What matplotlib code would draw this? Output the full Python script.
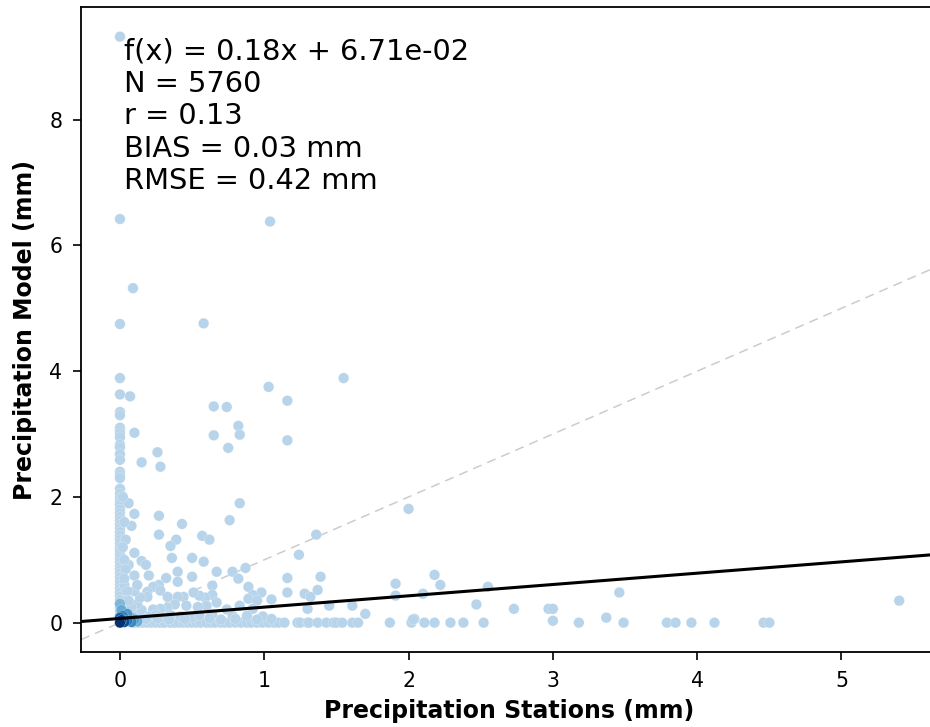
import numpy as np
import matplotlib.pyplot as plt

# fit stats printed on the chart
slope = 0.18
intercept = 6.71e-02
n_obs = 5760
r_val = 0.13
bias = 0.03
rmse = 0.42

# points sitting on x = 0 (station reports no rain)
col_y = [9.32, 6.42, 4.75, 3.89, 3.63, 3.35, 3.30, 3.10, 3.05, 3.00, 2.95,
         2.83, 2.79, 2.68, 2.59, 2.40, 2.35, 2.30, 2.13, 2.05, 1.98, 1.92,
         1.87, 1.80, 1.74, 1.68, 1.62, 1.56, 1.50, 1.44, 1.38, 1.32, 1.26,
         1.20, 1.14, 1.08, 1.02, 0.96, 0.90, 0.84, 0.78, 0.72, 0.66, 0.60,
         0.54, 0.48, 0.42, 0.36, 0.30, 0.24, 0.18, 0.12]

# points sitting on y = 0 (model gives no rain)
row_x = [0.10, 0.13, 0.16, 0.19, 0.22, 0.25, 0.28, 0.31, 0.35, 0.38, 0.41,
         0.44, 0.47, 0.50, 0.53, 0.56, 0.60, 0.63, 0.66, 0.70, 0.73, 0.76,
         0.80, 0.84, 0.88, 0.91, 0.95, 0.99, 1.03, 1.07, 1.10, 1.14, 1.23,
         1.25, 1.30, 1.31, 1.37, 1.43, 1.48, 1.50, 1.54, 1.61, 1.65, 1.87,
         2.02, 2.11, 2.18, 2.29, 2.38, 2.52, 3.18, 3.49, 3.79, 3.85, 3.96,
         4.12, 4.46, 4.50]

# remaining scattered pairs
sc_x = [1.04, 0.09, 0.58, 1.03, 1.55, 0.07, 1.16, 0.65, 0.74, 0.82, 0.10,
        0.65, 0.83, 1.16, 0.75, 0.26, 0.15, 0.28, 0.06, 0.83, 2.00, 0.10,
        0.27, 0.08, 0.43, 0.76, 0.27, 0.39, 0.57, 0.62, 0.35, 1.36, 1.24,
        0.10, 0.36, 0.50, 0.58, 0.15, 0.18, 0.06, 0.40, 0.20, 0.32, 0.50,
        0.67, 0.78, 0.87, 0.10, 0.82, 1.16, 1.39, 0.40, 0.27, 0.23, 0.19,
        0.28, 0.19, 0.89, 0.98, 0.92, 0.89, 1.05, 0.95, 1.16, 1.28, 1.32,
        1.37, 1.30, 1.45, 1.61, 1.70, 1.91, 1.91, 2.10, 2.18, 2.22, 2.55,
        2.47, 2.73, 2.97, 3.00, 3.00, 2.04, 2.03, 3.46, 3.37, 5.40, 0.64,
        0.64, 0.59, 0.55, 0.51, 0.44, 0.40, 0.33, 0.67, 0.60, 0.54, 0.46,
        0.38, 0.33, 0.28, 0.23, 0.74, 0.83, 0.92, 0.64, 0.78, 0.88, 0.99,
        0.12, 0.15, 0.20, 0.25, 0.30, 0.35, 0.42, 0.50, 0.55, 0.12, 0.14,
        0.10, 0.12, 0.04, 0.03, 0.04, 0.03, 0.05, 0.04, 0.03,
        0.18, 0.26, 0.34, 0.45, 0.62, 0.70, 0.80, 0.95, 1.05, 0.08, 0.06,
        0.03, 0.02, 0.03, 0.02]
sc_y = [6.38, 5.32, 4.76, 3.75, 3.89, 3.60, 3.53, 3.44, 3.43, 3.13, 3.02,
        2.98, 2.99, 2.90, 2.78, 2.71, 2.55, 2.48, 1.90, 1.90, 1.81, 1.73,
        1.70, 1.54, 1.57, 1.63, 1.40, 1.32, 1.38, 1.32, 1.22, 1.40, 1.08,
        1.11, 1.03, 1.03, 0.97, 0.98, 0.92, 0.92, 0.81, 0.75, 0.71, 0.73,
        0.81, 0.81, 0.87, 0.75, 0.70, 0.71, 0.73, 0.65, 0.60, 0.57, 0.49,
        0.51, 0.41, 0.57, 0.48, 0.44, 0.38, 0.37, 0.35, 0.48, 0.46, 0.41,
        0.52, 0.22, 0.27, 0.27, 0.14, 0.62, 0.43, 0.46, 0.76, 0.60, 0.57,
        0.29, 0.22, 0.22, 0.22, 0.03, 0.06, 0.05, 0.48, 0.08, 0.35, 0.59,
        0.44, 0.40, 0.43, 0.48, 0.41, 0.41, 0.41, 0.32, 0.27, 0.25, 0.27,
        0.29, 0.24, 0.22, 0.21, 0.21, 0.27, 0.22, 0.13, 0.11, 0.11, 0.10,
        0.12, 0.20, 0.10, 0.12, 0.08, 0.12, 0.10, 0.08, 0.12, 0.30, 0.40,
        0.50, 0.60, 1.32, 1.00, 0.85, 0.60, 0.50, 0.35, 0.25,
        0.06, 0.07, 0.05, 0.06, 0.07, 0.05, 0.06, 0.05, 0.06, 0.25, 0.35,
        0.70, 1.20, 1.60, 2.00]

# dense core near the origin, with number of observations stacked there
core_x = [0.00, 0.01, 0.03, 0.00, 0.05, 0.02, 0.08, 0.05, 0.10, 0.01, 0.00,
          0.12, 0.07]
core_y = [0.00, 0.04, 0.01, 0.08, 0.03, 0.11, 0.01, 0.14, 0.05, 0.20, 0.30,
          0.02, 0.09]
core_n = [3000, 1500, 800, 300, 150, 80, 60, 30, 20, 12, 6, 10, 15]

x = np.concatenate([np.zeros(len(col_y)), row_x, sc_x, core_x])
y = np.concatenate([col_y, np.zeros(len(row_x)), sc_y, core_y])
cnt = np.concatenate([np.ones(len(col_y) + len(row_x) + len(sc_x)), core_n])

# colour by stacked count (log scale), light blue for single points
lev = 0.3 + 0.7 * np.log(cnt) / np.log(max(core_n))
order = np.argsort(cnt, kind='stable')
colors = plt.cm.Blues(lev[order])

fig = plt.figure(figsize=(9.3, 7.27), dpi=100)
ax = fig.add_axes([0.0871, 0.1032, 0.9217, 0.887])

ax.scatter(x[order], y[order], c=colors, s=58, edgecolors='white',
           linewidths=0.15, zorder=2)

ax.set_xlim(-0.27, 5.67)
ax.set_ylim(-0.466, 9.79)

xl = np.array(ax.get_xlim())
ax.plot(xl, xl, '--', color='#cccccc', lw=1.1, dashes=(6, 4), zorder=1)
ax.plot(xl, slope * xl + intercept, color='black', lw=2.2, zorder=3)

txt = (f'f(x) = {slope:.2f}x + {intercept:.2e}\n'
       f'N = {n_obs}\n'
       f'r = {r_val:.2f}\n'
       f'BIAS = {bias:.2f} mm\n'
       f'RMSE = {rmse:.2f} mm')
ax.text(0.05, 0.953, txt, transform=ax.transAxes, fontsize=20.8,
        va='top', ha='left', linespacing=1.2)

ax.set_xlabel('Precipitation Stations (mm)', fontsize=17,
              fontweight='bold', labelpad=6)
ax.set_ylabel('Precipitation Model (mm)', fontsize=17, fontweight='bold',
              labelpad=9)
ax.tick_params(labelsize=14.8, width=1.2, length=5.5, pad=8)
for sp in ax.spines.values():
    sp.set_linewidth(1.3)

fig.savefig('out.png', dpi=100)
